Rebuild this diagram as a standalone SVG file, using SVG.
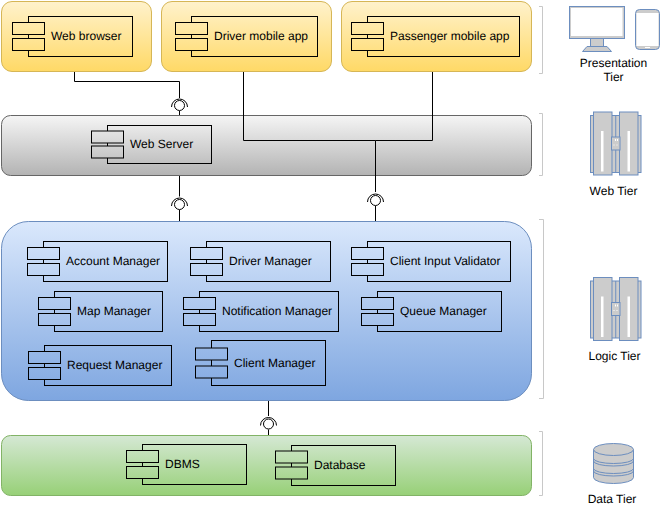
<svg xmlns="http://www.w3.org/2000/svg" xmlns:xlink="http://www.w3.org/1999/xlink" width="672" height="509" viewBox="0 0 672 509">
<style>
text{font-family:"Liberation Sans",Arial,sans-serif;font-size:12px;fill:#000;text-rendering:geometricPrecision}
.m{text-anchor:middle}
.c{fill:none;stroke:#000;stroke-width:1}
.b{fill:none;stroke:#000;stroke-width:1}
.y{fill:url(#gy);stroke:#000;stroke-width:1}
.g{fill:url(#gg);stroke:#000;stroke-width:1}
.l{fill:url(#gb);stroke:#000;stroke-width:1}
.n{fill:url(#gn);stroke:#000;stroke-width:1}
.w{fill:#fff;stroke:#000;stroke-width:1}
.a{fill:none;stroke:#000;stroke-width:1}
.br{fill:none;stroke:#c8c8c8;stroke-width:1}
.i{fill:#ccc;stroke:#6c8ebf;stroke-width:1}
.il{fill:none;stroke:#6c8ebf;stroke-width:1}
</style>
<defs>
<linearGradient id="gy" gradientUnits="userSpaceOnUse" x1="0" y1="1.5" x2="0" y2="71.5"><stop offset="0" stop-color="#fff2cc"/><stop offset="1" stop-color="#ffd966"/></linearGradient>
<linearGradient id="gg" gradientUnits="userSpaceOnUse" x1="0" y1="115.5" x2="0" y2="175.5"><stop offset="0" stop-color="#f5f5f5"/><stop offset="1" stop-color="#b3b3b3"/></linearGradient>
<linearGradient id="gb" gradientUnits="userSpaceOnUse" x1="0" y1="221.5" x2="0" y2="400.5"><stop offset="0" stop-color="#dae8fc"/><stop offset="1" stop-color="#7ea6e0"/></linearGradient>
<linearGradient id="gn" gradientUnits="userSpaceOnUse" x1="0" y1="435.5" x2="0" y2="495.5"><stop offset="0" stop-color="#d5e8d4"/><stop offset="1" stop-color="#97d077"/></linearGradient>
<g id="iface"><circle class="w" cx="0" cy="0" r="5"/><path class="a" d="M-8 1.5A8 8 0 0 1 8 1.5"/></g>
<g id="srv">
<rect class="i" x="0" y="3.5" width="50.5" height="57"/>
<path class="il" d="M25.25 3.5V25M25.25 38V60.5"/>
<rect class="i" x="3" y="0" width="18.5" height="63"/>
<rect class="i" x="29" y="0" width="18.5" height="63"/>
<rect x="10.5" y="19" width="2.5" height="40.5" fill="#fff"/>
<rect x="37" y="19" width="2.5" height="40.5" fill="#fff"/>
<rect class="i" x="21" y="25" width="8.5" height="13"/>
<path d="M25 27v2M27 27v2M23 33h1M26 33h1" stroke="#fff" fill="none"/>
</g>
</defs>

<g id="tier-backgrounds">
<rect id="presentation-a" x="1.5" y="1.5" width="150" height="70" rx="10.5" fill="url(#gy)" stroke="#d6b656"/>
<rect id="presentation-b" x="161.5" y="1.5" width="170" height="70" rx="10.5" fill="url(#gy)" stroke="#d6b656"/>
<rect id="presentation-c" x="341.5" y="1.5" width="190" height="70" rx="10.5" fill="url(#gy)" stroke="#d6b656"/>
<rect id="web-tier" x="1.5" y="115.5" width="530" height="60" rx="9" fill="url(#gg)" stroke="#666"/>
<rect id="logic-tier" x="1.5" y="221.5" width="530" height="179" rx="26.85" fill="url(#gb)" stroke="#6c8ebf"/>
<rect id="data-tier" x="1.5" y="435.5" width="530" height="60" rx="9" fill="url(#gn)" stroke="#82b366"/>
</g>

<g id="connectors">
<path class="c" d="M74.5 72V81.5H179.5V98M243.5 72V140.5H375.5M432.5 72V140.5H375.5V192M179.5 176V196.5M179.5 210V221M375.5 206V221M268.5 401V416M268.5 429.5V435M179.5 111V115"/>
<use xlink:href="#iface" href="#iface" x="179.5" y="105.5"/>
<use xlink:href="#iface" href="#iface" x="179.5" y="204.5"/>
<use xlink:href="#iface" href="#iface" x="375.5" y="200.5"/>
<use xlink:href="#iface" href="#iface" x="268.5" y="424"/>
</g>

<g id="web-browser"><rect class="b" x="28.5" y="16.5" width="104" height="40"/><rect class="y" x="12.5" y="22.5" width="32" height="12"/><rect class="y" x="12.5" y="38.5" width="32" height="12"/><text x="51" y="40">Web browser</text></g>
<g id="driver-mobile-app"><rect class="b" x="191.5" y="16.5" width="126" height="40"/><rect class="y" x="175.5" y="22.5" width="32" height="12"/><rect class="y" x="175.5" y="38.5" width="32" height="12"/><text x="214" y="40">Driver mobile app</text></g>
<g id="passenger-mobile-app"><rect class="b" x="367.5" y="16.5" width="152" height="40"/><rect class="y" x="351.5" y="22.5" width="32" height="12"/><rect class="y" x="351.5" y="38.5" width="32" height="12"/><text x="390" y="40">Passenger mobile app</text></g>
<g id="web-server"><rect class="b" x="107.5" y="125.5" width="104" height="38"/><rect class="g" x="91.5" y="131" width="32" height="12"/><rect class="g" x="91.5" y="146" width="32" height="12"/><text x="130" y="148">Web Server</text></g>

<g id="account-manager"><rect class="b" x="43.5" y="241.5" width="124" height="40"/><rect class="l" x="27.5" y="247.5" width="32" height="12"/><rect class="l" x="27.5" y="263.5" width="32" height="12"/><text x="66" y="265">Account Manager</text></g>
<g id="driver-manager"><rect class="b" x="206.5" y="241.5" width="124" height="40"/><rect class="l" x="190.5" y="247.5" width="32" height="12"/><rect class="l" x="190.5" y="263.5" width="32" height="12"/><text x="229" y="265">Driver Manager</text></g>
<g id="client-input-validator"><rect class="b" x="367.5" y="241.5" width="143" height="40"/><rect class="l" x="351.5" y="247.5" width="32" height="12"/><rect class="l" x="351.5" y="263.5" width="32" height="12"/><text x="390" y="265">Client Input Validator</text></g>
<g id="map-manager"><rect class="b" x="54.5" y="291.5" width="108" height="40"/><rect class="l" x="38.5" y="297.5" width="32" height="12"/><rect class="l" x="38.5" y="313.5" width="32" height="12"/><text x="77" y="315">Map Manager</text></g>
<g id="notification-manager"><rect class="b" x="199.5" y="291.5" width="139" height="40"/><rect class="l" x="183.5" y="297.5" width="32" height="12"/><rect class="l" x="183.5" y="313.5" width="32" height="12"/><text x="222" y="315">Notification Manager</text></g>
<g id="queue-manager"><rect class="b" x="377.5" y="291.5" width="124" height="40"/><rect class="l" x="361.5" y="297.5" width="32" height="12"/><rect class="l" x="361.5" y="313.5" width="32" height="12"/><text x="400" y="315">Queue Manager</text></g>
<g id="request-manager"><rect class="b" x="44.5" y="345.5" width="127" height="40"/><rect class="l" x="28.5" y="351.5" width="32" height="12"/><rect class="l" x="28.5" y="367.5" width="32" height="12"/><text x="67" y="369">Request Manager</text></g>
<g id="client-manager"><rect class="b" x="211.5" y="340.5" width="114" height="45"/><rect class="l" x="195.5" y="348" width="32" height="12"/><rect class="l" x="195.5" y="366" width="32" height="12"/><text x="234" y="367">Client Manager</text></g>
<g id="dbms"><rect class="b" x="142.5" y="444.5" width="104" height="40"/><rect class="n" x="126.5" y="450.5" width="32" height="12"/><rect class="n" x="126.5" y="466.5" width="32" height="12"/><text x="165" y="468">DBMS</text></g>
<g id="database"><rect class="b" x="291.5" y="445.5" width="104" height="40"/><rect class="n" x="275.5" y="451" width="32" height="12"/><rect class="n" x="275.5" y="467" width="32" height="12"/><text x="314" y="469">Database</text></g>

<g id="brackets">
<path class="br" d="M539 6.5H542.5V73.5H539"/>
<path class="br" d="M539 113.5H542.5V175.5H539"/>
<path class="br" d="M539 219.5H543.5V398.5H539"/>
<path class="br" d="M539 431.5H542.5V495.5H539"/>
</g>

<g id="presentation-tier">
<rect class="i" x="569.5" y="6.5" width="55" height="32"/>
<rect x="571" y="8" width="51.5" height="28" fill="#fff"/>
<rect class="i" x="590.5" y="38.5" width="13" height="10"/>
<path class="i" d="M582.5 51.5L587 46.5H607L611.5 51.5Z"/>
<rect class="i" x="635.5" y="9.5" width="24" height="40" rx="4"/>
<rect x="636.5" y="13" width="22" height="33" fill="#fff"/>
<rect x="645" y="47" width="5" height="1" fill="#fff"/>
<text class="m" x="613.5" y="67">Presentation</text>
<text class="m" x="613.5" y="81">Tier</text>
</g>
<g id="web-tier-label">
<use xlink:href="#srv" href="#srv" x="590.5" y="112"/>
<text class="m" x="613.5" y="195">Web Tier</text>
</g>
<g id="logic-tier-label">
<use xlink:href="#srv" href="#srv" x="590.5" y="277.5"/>
<text class="m" x="614.5" y="360">Logic Tier</text>
</g>
<g id="data-tier-label">
<path class="i" d="M593.5 449.5V477.5A20 6 0 0 0 633.5 477.5V449.5"/>
<ellipse class="i" cx="613.5" cy="449.5" rx="20" ry="6"/>
<path class="il" d="M593.5 458.5A20 5 0 0 0 633.5 458.5M593.5 461A20 5 0 0 0 633.5 461M593.5 468.5A20 5 0 0 0 633.5 468.5M593.5 471A20 5 0 0 0 633.5 471"/>
<text class="m" x="612" y="503">Data Tier</text>
</g>
</svg>
